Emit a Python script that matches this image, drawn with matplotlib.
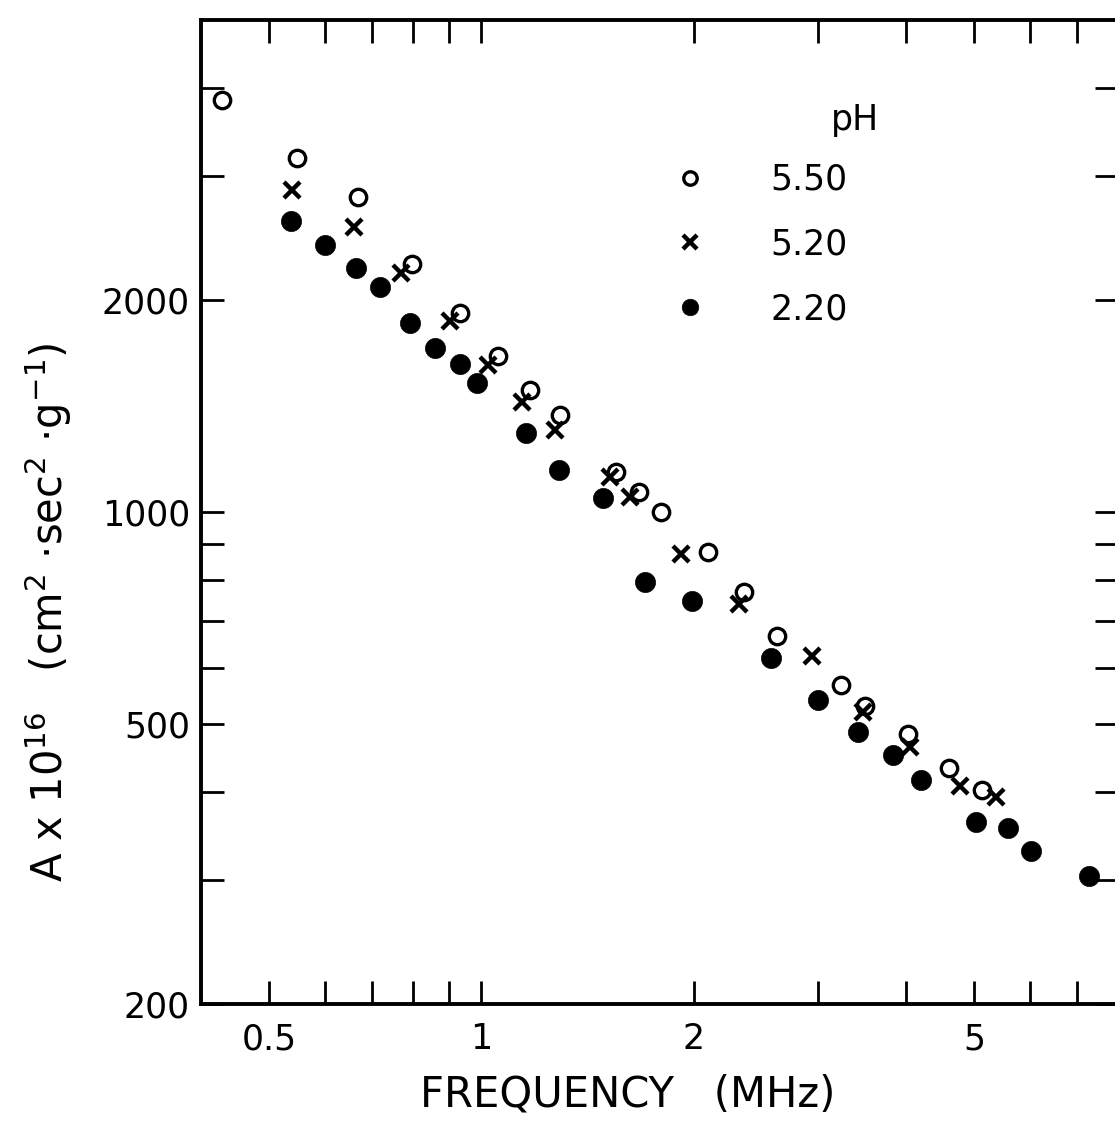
import matplotlib
matplotlib.use("Agg")
import matplotlib.pyplot as plt
from matplotlib.ticker import FixedLocator, FixedFormatter, NullFormatter

# ---- data (frequency in MHz, A x 1e16) ----
freq_550 = [0.428, 0.547, 0.669, 0.796, 0.931, 1.057, 1.170, 1.294, 1.554, 1.675,
            1.800, 2.099, 2.361, 2.630, 3.241, 3.505, 4.034, 4.611, 5.136]
A_550 = [3847, 3182, 2801, 2250, 1917, 1665, 1490, 1373, 1139, 1067,
         1000, 877, 769, 666, 568, 530, 483, 433, 403]

freq_520 = [0.539, 0.660, 0.770, 0.901, 1.023, 1.143, 1.273, 1.524, 1.627, 1.921,
            2.323, 2.948, 3.482, 4.060, 4.779, 5.377]
A_520 = [2866, 2539, 2184, 1867, 1617, 1433, 1307, 1121, 1050, 871,
         740, 624, 520, 463, 408, 394]

freq_220 = [0.536, 0.599, 0.663, 0.719, 0.793, 0.858, 0.931, 0.984, 1.155, 1.290,
            1.489, 1.708, 1.986, 2.578, 3.006, 3.425, 3.841, 4.209, 5.037, 5.591,
            6.027, 7.286]
A_220 = [2590, 2394, 2220, 2086, 1855, 1710, 1623, 1524, 1295, 1147,
         1046, 795, 747, 620, 541, 487, 452, 416, 363, 356,
         330, 304]

series_labels = ["5.50", "5.20", "2.20"]
legend_title = "pH"

x_major = [0.5, 1, 2, 5]
x_major_labels = ["0.5", "1", "2", "5"]
x_minor = [0.6, 0.7, 0.8, 0.9, 3, 4, 6, 7]
y_major = [200, 500, 1000, 2000]
y_major_labels = ["200", "500", "1000", "2000"]
y_minor = [300, 400, 600, 700, 800, 900, 3000, 4000]

x_label = "FREQUENCY   (MHz)"
y_label = r"A x 10$^{16}$   (cm$^{2}$ ·sec$^{2}$ ·g$^{-1}$)"

# ---- style ----
plt.rcParams['font.family'] = ['DejaVu Sans']
plt.rcParams['mathtext.default'] = 'regular'

W, H = 1115, 1124
fig = plt.figure(figsize=(W / 100, H / 100), dpi=100)
ax = fig.add_axes([201 / W, (H - 1004) / H, 917 / W, 984 / H])
ax.set_xscale('log')
ax.set_yscale('log')
ax.set_xlim(0.4, 8)
ax.set_ylim(200, 5000)

ax.plot(freq_550, A_550, linestyle='none', marker='o', markersize=11.8,
        markerfacecolor='white', markeredgecolor='black', markeredgewidth=2.4,
        label=series_labels[0], zorder=3)
ax.plot(freq_520, A_520, linestyle='none', marker='x', markersize=11.5,
        color='black', markeredgewidth=3.2, label=series_labels[1], zorder=4)
ax.plot(freq_220, A_220, linestyle='none', marker='o', markersize=14.5,
        markerfacecolor='black', markeredgecolor='black', markeredgewidth=0.5,
        label=series_labels[2], zorder=3)

ax.xaxis.set_major_locator(FixedLocator(x_major))
ax.xaxis.set_major_formatter(FixedFormatter(x_major_labels))
ax.xaxis.set_minor_locator(FixedLocator(x_minor))
ax.xaxis.set_minor_formatter(NullFormatter())
ax.yaxis.set_major_locator(FixedLocator(y_major))
ax.yaxis.set_major_formatter(FixedFormatter(y_major_labels))
ax.yaxis.set_minor_locator(FixedLocator(y_minor))
ax.yaxis.set_minor_formatter(NullFormatter())

for which in ('major', 'minor'):
    ax.tick_params(axis='both', which=which, direction='in', length=16.5,
                   width=2.0, top=True, right=True, color='black')
ax.tick_params(axis='x', which='major', labelsize=25, pad=13)
ax.tick_params(axis='y', which='major', labelsize=25, pad=8)

for s in ax.spines.values():
    s.set_linewidth(2.8)

ax.set_xlabel(x_label, fontsize=30)
ax.xaxis.set_label_coords((628 - 201) / 917, (1004 - 1074) / 984)
ax.set_ylabel(y_label, fontsize=30, va='center')
ax.yaxis.set_label_coords((48 - 201) / 917, (1004 - 612) / 984)

leg = ax.legend(loc='upper left',
                bbox_to_anchor=(673 / W, 1 - 163 / H), bbox_transform=fig.transFigure,
                frameon=False, fontsize=25,
                handlelength=1.0, handletextpad=1.8, labelspacing=0.88,
                borderpad=0, borderaxespad=0, markerscale=0.82, numpoints=1)
fig.text(855 / W, 1 - 120 / H, legend_title, fontsize=25, ha='center', va='center')

fig.savefig('out.png', dpi=100)
